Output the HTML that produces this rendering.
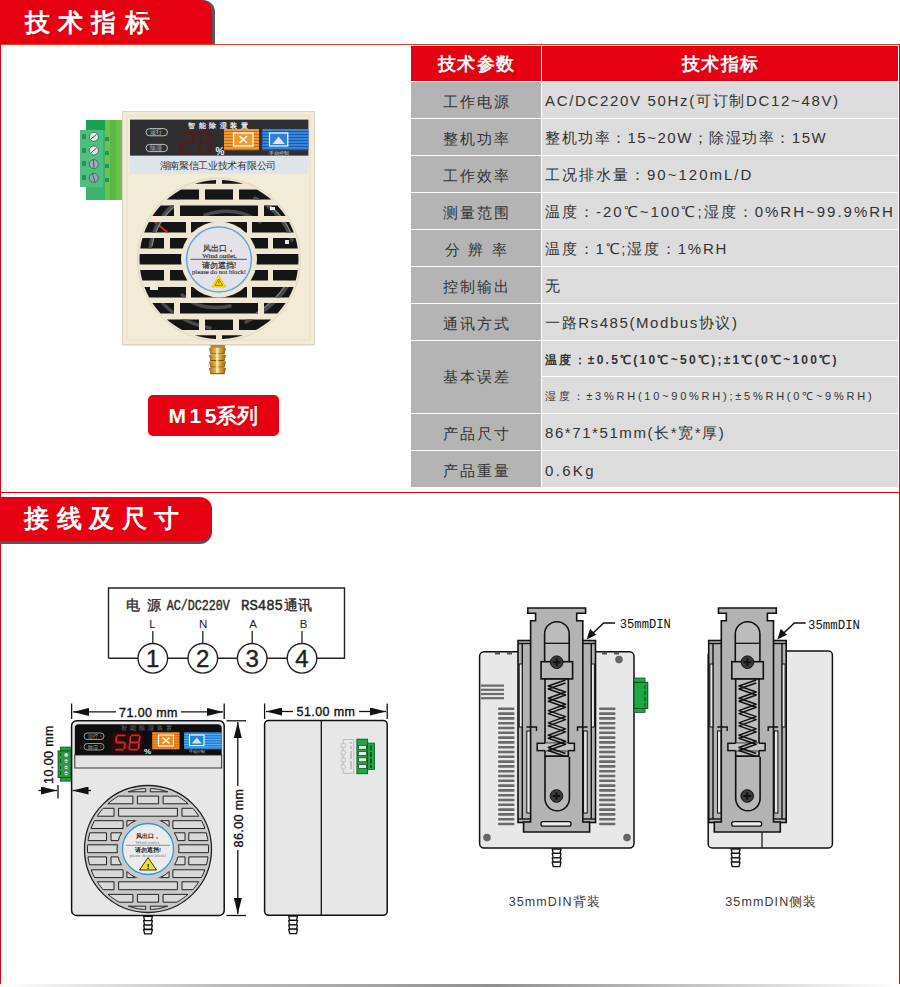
<!DOCTYPE html>
<html><head><meta charset="utf-8">
<style>
*{margin:0;padding:0;box-sizing:border-box}
html,body{width:900px;height:987px;overflow:hidden;background:#fff;font-family:"Liberation Sans",sans-serif}
.abs{position:absolute}
#page{position:relative;width:900px;height:987px;background:#fff}
.tab{position:absolute;left:0;background:#e50012;color:#fff;font-weight:bold;font-size:25px;letter-spacing:7.8px}
.row{position:absolute;left:411px;width:487px;height:36px}
.lc{position:absolute;left:0;top:0;width:130px;height:100%;background:#b4b4b4;color:#333;font-size:15px;letter-spacing:2.3px;text-indent:2.3px;padding-top:4px;text-align:center;display:flex;align-items:center;justify-content:center}
.rc{position:absolute;left:131px;top:0;width:356px;height:100%;background:#dcdcdc;color:#333;font-size:15px;letter-spacing:2px;padding-left:3px;padding-top:3px;display:flex;align-items:center;white-space:nowrap}
</style></head>
<body><div id="page">
<!-- borders -->
<div class="abs" style="left:0;top:44px;width:900px;height:1px;background:#e8401f"></div>
<div class="abs" style="left:0;top:44px;width:1px;height:940px;background:#e50012"></div>
<div class="abs" style="left:899px;top:44px;width:1px;height:940px;background:#e50012"></div>
<div class="abs" style="left:0;top:492px;width:900px;height:1px;background:#e50012"></div>
<div class="abs" style="left:0;top:984px;width:900px;height:3px;background:linear-gradient(90deg,#fff 0%,#bbb 25%,#909090 55%,#ccc 80%,#fff 100%)"></div>

<!-- tab 1 -->
<div class="tab" style="top:0;width:215px;height:44px;background:#5a5a5a;border-top-right-radius:12px"></div>
<div class="tab" style="top:0;width:212px;height:44px;border-top-right-radius:12px;padding:6px 0 0 25px;letter-spacing:8.2px">技术指标</div>

<!-- tab 2 -->
<div class="tab" style="top:500px;width:212px;height:44px;background:#555;border-radius:0 12px 12px 0"></div>
<div class="tab" style="top:497px;width:212px;height:44px;border-radius:0 12px 12px 0;padding:5px 0 0 24px;letter-spacing:7.6px">接线及尺寸</div>

<!-- table -->
<div class="row" style="top:46px;height:35px"><div class="lc" style="background:#e50012;color:#fff;font-weight:bold;font-size:18px;letter-spacing:1.5px;text-indent:1.5px;padding:0">技术参数</div><div class="rc" style="background:#e50012;color:#fff;font-weight:bold;font-size:18px;letter-spacing:1.5px;text-indent:1.5px;justify-content:center;padding:0">技术指标</div></div>
<div class="row" style="top:82px"><div class="lc">工作电源</div><div class="rc" style="letter-spacing:1.67px">AC/DC220V 50Hz(可订制DC12~48V)</div></div>
<div class="row" style="top:119px"><div class="lc">整机功率</div><div class="rc" style="letter-spacing:1.5px">整机功率：15~20W；除湿功率：15W</div></div>
<div class="row" style="top:156px"><div class="lc">工作效率</div><div class="rc">工况排水量：90~120mL/D</div></div>
<div class="row" style="top:193px"><div class="lc">测量范围</div><div class="rc">温度：-20℃~100℃;湿度：0%RH~99.9%RH</div></div>
<div class="row" style="top:230px"><div class="lc">分 辨 率</div><div class="rc" style="letter-spacing:1.8px">温度：1℃;湿度：1%RH</div></div>
<div class="row" style="top:267px"><div class="lc">控制输出</div><div class="rc">无</div></div>
<div class="row" style="top:304px"><div class="lc">通讯方式</div><div class="rc" style="letter-spacing:1.58px">一路Rs485(Modbus协议)</div></div>
<div class="row" style="top:341px;height:72px"><div class="lc" style="padding-top:0">基本误差</div>
  <div class="rc" style="height:35px;font-size:12px;font-weight:bold;letter-spacing:2.26px;padding-top:4px">温度：±0.5℃(10℃~50℃);±1℃(0℃~100℃)</div>
  <div class="rc" style="top:36px;height:36px;font-size:11px;letter-spacing:2.76px;padding-top:2px">湿度：±3%RH(10~90%RH);±5%RH(0℃~9%RH)</div></div>
<div class="row" style="top:414px"><div class="lc">产品尺寸</div><div class="rc" style="letter-spacing:1.58px">86*71*51mm(长*宽*厚)</div></div>
<div class="row" style="top:451px"><div class="lc">产品重量</div><div class="rc" style="letter-spacing:2.34px">0.6Kg</div></div>

<!-- M15 button -->
<div class="abs" style="left:148px;top:395px;width:131px;height:41px;background:#e50012;border-radius:5px;color:#fff;font-weight:bold;text-align:center;line-height:41px;white-space:nowrap"><span style="font-size:21px;letter-spacing:3.5px">M1</span><span style="font-size:21px">5</span><span style="font-size:20.5px">系列</span></div>

<!-- PHOTO -->
<svg class="abs" style="left:0;top:0" width="900" height="987" viewBox="0 0 900 987">
<defs>
<clipPath id="fanclip"><circle cx="219" cy="259.5" r="79.5"/></clipPath>
<linearGradient id="brass" x1="0" x2="1" y1="0" y2="0"><stop offset="0" stop-color="#a06a18"/><stop offset="0.3" stop-color="#d9a640"/><stop offset="0.5" stop-color="#f0c860"/><stop offset="0.75" stop-color="#c8922e"/><stop offset="1" stop-color="#8a5a12"/></linearGradient>
<linearGradient id="orng" x1="0" x2="0" y1="0" y2="1"><stop offset="0" stop-color="#f5a040"/><stop offset="1" stop-color="#e68a20"/></linearGradient>
</defs>
<!-- terminal block -->
<rect x="86" y="120" width="20" height="80" fill="#3bb56e"/>
<rect x="86" y="120" width="20" height="10" fill="#16a452"/>
<rect x="105" y="120" width="17" height="80" fill="#6cc24c"/>
<rect x="110" y="120" width="6" height="80" fill="#5db842"/>
<rect x="80" y="130" width="23" height="57" fill="#52bd80"/>
<g fill="#1e9a50"><rect x="82" y="134" width="4" height="5"/><rect x="82" y="148" width="4" height="5"/><rect x="82" y="161" width="4" height="5"/><rect x="82" y="175" width="4" height="5"/>
<rect x="105" y="137" width="4" height="4"/><rect x="105" y="151" width="4" height="4"/><rect x="105" y="164" width="4" height="4"/><rect x="105" y="178" width="4" height="4"/></g>
<g stroke="#1f6a40" stroke-width="0.8"><circle cx="93.8" cy="136.8" r="4.5" fill="#f0f0f0"/><circle cx="93.8" cy="150.5" r="4.5" fill="#e8e8ec"/><circle cx="93.8" cy="164.2" r="4.5" fill="#a8acc0"/><circle cx="93.8" cy="177.9" r="4.5" fill="#a0a4b8"/></g>
<g stroke="#555" stroke-width="1"><line x1="91" y1="139" x2="96.5" y2="134.5"/><line x1="91" y1="153" x2="96.5" y2="148"/><line x1="93.5" y1="160" x2="94" y2="168"/><line x1="92.5" y1="174" x2="95" y2="182"/></g>
<!-- body -->
<rect x="122" y="111" width="193" height="235" fill="#f2ebd8"/>
<rect x="122.5" y="111.5" width="192" height="233" fill="none" stroke="#ddd4bf" stroke-width="1"/>
<rect x="127" y="116" width="183" height="224" fill="none" stroke="#e6dec9" stroke-width="1"/>
<!-- panel -->
<rect x="130" y="119.6" width="178.4" height="36.2" fill="#2f2f31"/>
<rect x="130" y="155.8" width="178.4" height="18" fill="#dfe3ea"/>
<text x="219.5" y="127.5" fill="#eee" font-size="7" font-weight="bold" text-anchor="middle" letter-spacing="3.5" font-family="Liberation Sans">智能除湿装置</text>
<rect x="146" y="128.6" width="21.5" height="7.2" rx="3.6" fill="none" stroke="#cfcfcf" stroke-width="0.9"/>
<rect x="146" y="144.4" width="21.5" height="7.2" rx="3.6" fill="none" stroke="#cfcfcf" stroke-width="0.9"/>
<text x="150" y="134.4" fill="#ccc" font-size="5.5" font-family="Liberation Sans">运行</text>
<text x="150" y="150.2" fill="#ccc" font-size="5.5" font-family="Liberation Sans">除湿</text>
<g fill="#561b1b"><polygon points="182.5,132.5 193.9,132.5 192.4,135.1 183.6,135.1"/><polygon points="195.1,133.8 194.4,141.7 193.0,143.0 191.8,141.7 192.4,135.1"/><polygon points="181.6,143.0 183.0,141.7 191.8,141.7 193.0,143.0 191.6,144.3 182.8,144.3"/><polygon points="180.2,144.3 181.6,143.0 182.8,144.3 182.3,150.9 179.6,152.2"/><polygon points="182.3,150.9 191.1,150.9 192.2,153.5 180.8,153.5"/><polygon points="201.0,132.5 212.4,132.5 210.9,135.1 202.1,135.1"/><polygon points="213.6,133.8 212.9,141.7 211.5,143.0 210.3,141.7 210.9,135.1"/><polygon points="212.7,144.3 212.1,152.2 209.6,150.9 210.1,144.3 211.5,143.0"/><polygon points="200.8,150.9 209.6,150.9 210.7,153.5 199.3,153.5"/><polygon points="198.7,144.3 200.1,143.0 201.3,144.3 200.8,150.9 198.1,152.2"/><polygon points="199.6,133.8 202.1,135.1 201.5,141.7 200.1,143.0 198.9,141.7"/><polygon points="200.1,143.0 201.5,141.7 210.3,141.7 211.5,143.0 210.1,144.3 201.3,144.3"/></g>
<text x="215.5" y="154.6" fill="#f0f0f0" font-size="10" font-weight="bold" font-family="Liberation Sans">%</text>
<rect x="224" y="129" width="35" height="21.2" fill="#f29a30"/>
<g stroke="#a75d15" stroke-width="0.7"><line x1="224" y1="131.5" x2="259" y2="131.5"/><line x1="224" y1="134.5" x2="259" y2="134.5"/><line x1="224" y1="137.5" x2="259" y2="137.5"/><line x1="224" y1="140.5" x2="259" y2="140.5"/><line x1="224" y1="143.5" x2="259" y2="143.5"/><line x1="224" y1="146.5" x2="259" y2="146.5"/><line x1="224" y1="149.5" x2="259" y2="149.5"/></g>
<rect x="233.5" y="133" width="19.5" height="13" fill="#f29a30" stroke="#fff" stroke-width="1.3"/>
<g stroke="#fff" stroke-width="1.6"><line x1="239.5" y1="136" x2="247" y2="143"/><line x1="247" y1="136" x2="239.5" y2="143"/></g>
<rect x="262.2" y="129" width="46.2" height="21.2" fill="#3384dc"/>
<g stroke="#1a4c98" stroke-width="0.8"><line x1="262" y1="131.5" x2="308.4" y2="131.5"/><line x1="262" y1="134.5" x2="308.4" y2="134.5"/><line x1="262" y1="137.5" x2="308.4" y2="137.5"/><line x1="262" y1="140.5" x2="308.4" y2="140.5"/><line x1="262" y1="143.5" x2="308.4" y2="143.5"/><line x1="262" y1="146.5" x2="308.4" y2="146.5"/><line x1="262" y1="149.5" x2="308.4" y2="149.5"/></g>
<rect x="269.5" y="133" width="18.3" height="13" fill="#2f7fd6" stroke="#fff" stroke-width="1.2"/>
<polygon points="272.5,144 278.6,136.5 284.8,144" fill="#dfe8f2"/>
<text x="279" y="155" fill="#ddd" font-size="5" text-anchor="middle" font-family="Liberation Sans">手动控制</text>
<text x="217.8" y="169" fill="#333" font-size="10" text-anchor="middle" font-family="Liberation Serif" letter-spacing="-0.3">湖南聚信工业技术有限公司</text>
<!-- fan -->
<circle cx="219" cy="259.5" r="81.5" fill="#efe7d3" stroke="#e0d7c1" stroke-width="1"/>
<g fill="#151515">
<path d="M216.0,183.8 L194.7,183.8 L197.4,183.0 L200.4,182.2 L203.5,181.5 L206.6,181.0 L209.7,180.6 L212.8,180.2 L215.9,180.1 L216.0,180.1Z"/><path d="M222.0,183.8 L222.0,180.1 L222.1,180.1 L225.2,180.2 L228.3,180.6 L231.4,181.0 L234.5,181.5 L237.6,182.2 L240.6,183.0 L243.3,183.8Z"/><path d="M199.0,189.4 L199.0,199.6 L166.7,199.6 L167.4,199.0 L169.8,197.1 L172.3,195.2 L174.8,193.4 L177.5,191.7 L180.2,190.1 L181.5,189.4Z"/><path d="M233.0,189.4 L233.0,199.6 L205.0,199.6 L205.0,189.4Z"/><path d="M239.0,199.6 L239.0,189.4 L256.5,189.4 L257.8,190.1 L260.5,191.7 L263.2,193.4 L265.7,195.2 L268.2,197.1 L270.6,199.0 L271.3,199.6Z"/><path d="M174.0,205.6 L174.0,216.0 L152.5,216.0 L152.9,215.3 L154.7,212.8 L156.6,210.3 L158.5,207.9 L160.6,205.6Z"/><path d="M258.0,205.6 L258.0,216.0 L180.0,216.0 L180.0,205.6Z"/><path d="M264.0,216.0 L264.0,205.6 L277.4,205.6 L279.5,207.9 L281.4,210.3 L283.3,212.8 L285.1,215.3 L285.5,216.0Z"/><path d="M186.0,222.0 L186.0,232.4 L144.3,232.4 L144.4,232.0 L145.6,229.1 L146.8,226.2 L148.2,223.4 L148.9,222.0Z"/><path d="M247.0,222.0 L247.0,232.4 L191.0,232.4 L191.0,222.0Z"/><path d="M252.0,232.4 L252.0,222.0 L289.1,222.0 L289.8,223.4 L291.2,226.2 L292.4,229.1 L293.6,232.0 L293.7,232.4Z"/><path d="M164.0,238.0 L164.0,248.4 L140.3,248.4 L140.5,247.1 L141.0,244.0 L141.7,240.9 L142.5,238.0Z"/><path d="M268.0,238.0 L268.0,248.4 L170.0,248.4 L170.0,238.0Z"/><path d="M273.0,248.4 L273.0,238.0 L295.5,238.0 L296.3,240.9 L297.0,244.0 L297.5,247.1 L297.7,248.4Z"/><path d="M298.5,259.5 L298.4,262.6 L298.3,264.4 L139.7,264.4 L139.6,262.6 L139.5,259.5 L139.6,256.4 L139.7,254.0 L298.3,254.0 L298.4,256.4Z"/><path d="M164.0,270.0 L164.0,280.4 L142.3,280.4 L141.7,278.1 L141.0,275.0 L140.5,271.9 L140.2,270.0Z"/><path d="M268.0,270.0 L268.0,280.4 L170.0,280.4 L170.0,270.0Z"/><path d="M297.8,270.0 L297.5,271.9 L297.0,275.0 L296.3,278.1 L295.7,280.4 L273.0,280.4 L273.0,270.0Z"/><path d="M186.0,287.0 L186.0,297.4 L149.1,297.4 L148.2,295.6 L146.8,292.8 L145.6,289.9 L144.4,287.0 L144.4,287.0Z"/><path d="M247.0,287.0 L247.0,297.4 L191.0,297.4 L191.0,287.0Z"/><path d="M293.6,287.0 L293.6,287.0 L292.4,289.9 L291.2,292.8 L289.8,295.6 L288.9,297.4 L252.0,297.4 L252.0,287.0Z"/><path d="M174.0,303.0 L174.0,313.4 L160.6,313.4 L158.5,311.1 L156.6,308.7 L154.7,306.2 L152.9,303.7 L152.5,303.0Z"/><path d="M258.0,303.0 L258.0,313.4 L180.0,313.4 L180.0,303.0Z"/><path d="M285.5,303.0 L285.1,303.7 L283.3,306.2 L281.4,308.7 L279.5,311.1 L277.4,313.4 L264.0,313.4 L264.0,303.0Z"/><path d="M199.0,319.6 L199.0,330.0 L182.3,330.0 L180.2,328.9 L177.5,327.3 L174.8,325.6 L172.3,323.8 L169.8,321.9 L167.4,320.0 L167.0,319.6Z"/><path d="M233.0,319.6 L233.0,330.0 L205.0,330.0 L205.0,319.6Z"/><path d="M271.0,319.6 L270.6,320.0 L268.2,321.9 L265.7,323.8 L263.2,325.6 L260.5,327.3 L257.8,328.9 L255.7,330.0 L239.0,330.0 L239.0,319.6Z"/><path d="M216.0,335.3 L216.0,338.9 L215.9,338.9 L212.8,338.8 L209.7,338.4 L206.6,338.0 L203.5,337.5 L200.4,336.8 L197.4,336.0 L195.1,335.3Z"/><path d="M242.9,335.3 L240.6,336.0 L237.6,336.8 L234.5,337.5 L231.4,338.0 L228.3,338.4 L225.2,338.8 L222.1,338.9 L222.0,338.9 L222.0,335.3Z"/>
</g>
<clipPath id="slotclip"><path d="M216.0,183.8 L194.7,183.8 L197.4,183.0 L200.4,182.2 L203.5,181.5 L206.6,181.0 L209.7,180.6 L212.8,180.2 L215.9,180.1 L216.0,180.1Z"/><path d="M222.0,183.8 L222.0,180.1 L222.1,180.1 L225.2,180.2 L228.3,180.6 L231.4,181.0 L234.5,181.5 L237.6,182.2 L240.6,183.0 L243.3,183.8Z"/><path d="M199.0,189.4 L199.0,199.6 L166.7,199.6 L167.4,199.0 L169.8,197.1 L172.3,195.2 L174.8,193.4 L177.5,191.7 L180.2,190.1 L181.5,189.4Z"/><path d="M233.0,189.4 L233.0,199.6 L205.0,199.6 L205.0,189.4Z"/><path d="M239.0,199.6 L239.0,189.4 L256.5,189.4 L257.8,190.1 L260.5,191.7 L263.2,193.4 L265.7,195.2 L268.2,197.1 L270.6,199.0 L271.3,199.6Z"/><path d="M174.0,205.6 L174.0,216.0 L152.5,216.0 L152.9,215.3 L154.7,212.8 L156.6,210.3 L158.5,207.9 L160.6,205.6Z"/><path d="M258.0,205.6 L258.0,216.0 L180.0,216.0 L180.0,205.6Z"/><path d="M264.0,216.0 L264.0,205.6 L277.4,205.6 L279.5,207.9 L281.4,210.3 L283.3,212.8 L285.1,215.3 L285.5,216.0Z"/><path d="M186.0,222.0 L186.0,232.4 L144.3,232.4 L144.4,232.0 L145.6,229.1 L146.8,226.2 L148.2,223.4 L148.9,222.0Z"/><path d="M247.0,222.0 L247.0,232.4 L191.0,232.4 L191.0,222.0Z"/><path d="M252.0,232.4 L252.0,222.0 L289.1,222.0 L289.8,223.4 L291.2,226.2 L292.4,229.1 L293.6,232.0 L293.7,232.4Z"/><path d="M164.0,238.0 L164.0,248.4 L140.3,248.4 L140.5,247.1 L141.0,244.0 L141.7,240.9 L142.5,238.0Z"/><path d="M268.0,238.0 L268.0,248.4 L170.0,248.4 L170.0,238.0Z"/><path d="M273.0,248.4 L273.0,238.0 L295.5,238.0 L296.3,240.9 L297.0,244.0 L297.5,247.1 L297.7,248.4Z"/><path d="M298.5,259.5 L298.4,262.6 L298.3,264.4 L139.7,264.4 L139.6,262.6 L139.5,259.5 L139.6,256.4 L139.7,254.0 L298.3,254.0 L298.4,256.4Z"/><path d="M164.0,270.0 L164.0,280.4 L142.3,280.4 L141.7,278.1 L141.0,275.0 L140.5,271.9 L140.2,270.0Z"/><path d="M268.0,270.0 L268.0,280.4 L170.0,280.4 L170.0,270.0Z"/><path d="M297.8,270.0 L297.5,271.9 L297.0,275.0 L296.3,278.1 L295.7,280.4 L273.0,280.4 L273.0,270.0Z"/><path d="M186.0,287.0 L186.0,297.4 L149.1,297.4 L148.2,295.6 L146.8,292.8 L145.6,289.9 L144.4,287.0 L144.4,287.0Z"/><path d="M247.0,287.0 L247.0,297.4 L191.0,297.4 L191.0,287.0Z"/><path d="M293.6,287.0 L293.6,287.0 L292.4,289.9 L291.2,292.8 L289.8,295.6 L288.9,297.4 L252.0,297.4 L252.0,287.0Z"/><path d="M174.0,303.0 L174.0,313.4 L160.6,313.4 L158.5,311.1 L156.6,308.7 L154.7,306.2 L152.9,303.7 L152.5,303.0Z"/><path d="M258.0,303.0 L258.0,313.4 L180.0,313.4 L180.0,303.0Z"/><path d="M285.5,303.0 L285.1,303.7 L283.3,306.2 L281.4,308.7 L279.5,311.1 L277.4,313.4 L264.0,313.4 L264.0,303.0Z"/><path d="M199.0,319.6 L199.0,330.0 L182.3,330.0 L180.2,328.9 L177.5,327.3 L174.8,325.6 L172.3,323.8 L169.8,321.9 L167.4,320.0 L167.0,319.6Z"/><path d="M233.0,319.6 L233.0,330.0 L205.0,330.0 L205.0,319.6Z"/><path d="M271.0,319.6 L270.6,320.0 L268.2,321.9 L265.7,323.8 L263.2,325.6 L260.5,327.3 L257.8,328.9 L255.7,330.0 L239.0,330.0 L239.0,319.6Z"/><path d="M216.0,335.3 L216.0,338.9 L215.9,338.9 L212.8,338.8 L209.7,338.4 L206.6,338.0 L203.5,337.5 L200.4,336.8 L197.4,336.0 L195.1,335.3Z"/><path d="M242.9,335.3 L240.6,336.0 L237.6,336.8 L234.5,337.5 L231.4,338.0 L228.3,338.4 L225.2,338.8 L222.1,338.9 L222.0,338.9 L222.0,335.3Z"/></clipPath>
<g clip-path="url(#slotclip)" fill="none">
<path d="M150,218 L172,236" stroke="#c0282a" stroke-width="2.2"/>
<g stroke="#4a4a4c" stroke-width="3.5" stroke-linecap="round">
<path d="M255,198 Q282,212 292,240"/><path d="M160,300 Q178,322 210,328"/><path d="M246,322 Q276,306 290,282"/><path d="M150,250 Q152,222 178,200"/>
<path d="M205,215 Q235,205 260,222"/><path d="M182,295 Q200,312 230,306"/>
</g>
<g stroke="#8a8a8c" stroke-width="1.2"><path d="M262,200 Q284,214 292,236"/><path d="M152,246 Q156,222 176,205"/><path d="M248,318 Q274,304 286,284"/></g>
<g fill="#e8e8e8"><rect x="150" y="287" width="8" height="3"/><rect x="270" y="207" width="5" height="3"/><rect x="285" y="240" width="4" height="4"/><rect x="145" y="300" width="6" height="2"/></g>
</g>
<circle cx="219" cy="259.5" r="38" fill="#efe7d3"/>
<circle cx="219" cy="259.5" r="32.4" fill="#e2e2e8" stroke="#62a4e4" stroke-width="1.5"/>
<g font-family="Liberation Serif" fill="#2a2a2a" text-anchor="middle">
<text x="219" y="251" font-size="8" stroke="#2a2a2a" stroke-width="0.2">风出口，</text>
<text x="219.5" y="258" font-size="7" stroke="#2a2a2a" stroke-width="0.15">Wind outlet,</text>
<line x1="190.5" y1="259.3" x2="247" y2="259.3" stroke="#333" stroke-width="0.8"/>
<text x="219" y="268" font-size="8" stroke="#2a2a2a" stroke-width="0.2">请勿遮挡!</text>
<text x="219" y="274" font-size="6.3" stroke="#2a2a2a" stroke-width="0.1" textLength="54" lengthAdjust="spacingAndGlyphs">please do not block!</text>
</g>
<polygon points="218.8,275.5 211.8,287 225.8,287" fill="#ffe000" stroke="#d8b800" stroke-width="0.6"/>
<polygon points="218.8,279 215,285.3 222.6,285.3" fill="none" stroke="#6a5a10" stroke-width="0.7"/>
<line x1="218.8" y1="281" x2="218.8" y2="283.5" stroke="#6a5a10" stroke-width="0.8"/>
<!-- nozzle -->
<rect x="210.5" y="345" width="14.5" height="3" fill="#b8862c"/>
<path d="M209,348.3 Q217.5,346.9 226,348.3 L224.6,354.1 H210.4 Z" fill="url(#brass)"/>
<line x1="210.4" y1="353.9" x2="224.6" y2="353.9" stroke="#7a5210" stroke-width="1"/>
<path d="M209,354.9 Q217.5,353.5 226,354.9 L224.6,360.7 H210.4 Z" fill="url(#brass)"/>
<line x1="210.4" y1="360.5" x2="224.6" y2="360.5" stroke="#7a5210" stroke-width="1"/>
<path d="M209,361.5 Q217.5,360.1 226,361.5 L224.6,367.3 H210.4 Z" fill="url(#brass)"/>
<line x1="210.4" y1="367.1" x2="224.6" y2="367.1" stroke="#7a5210" stroke-width="1"/>
<path d="M209,368.1 Q217.5,366.7 226,368.1 L224.6,373.9 H210.4 Z" fill="url(#brass)"/>
<line x1="210.4" y1="373.7" x2="224.6" y2="373.7" stroke="#7a5210" stroke-width="1"/>
<rect x="216" y="348" width="2.5" height="25" fill="#fff3b0" opacity="0.7"/>
</svg>

<!-- DIAG -->
<svg class="abs" style="left:0;top:0" width="900" height="987" viewBox="0 0 900 987">
<defs>
<marker id="ah" viewBox="0 0 16 8" refX="16" refY="4" markerWidth="16" markerHeight="8" markerUnits="userSpaceOnUse" orient="auto-start-reverse"><path d="M0,0 L16,4 L0,8 Z" fill="#111"/></marker>


</defs>

<!-- ===== wiring diagram ===== -->
<path d="M108.5,658.3 V588 H344.5 V658.3 H108.5" fill="none" stroke="#222" stroke-width="1.4"/>
<g stroke="#222" stroke-width="1.4" fill="#fff">
 <circle cx="152.8" cy="658.3" r="14.8"/><circle cx="202.8" cy="658.3" r="14.8"/><circle cx="252.2" cy="658.3" r="14.8"/><circle cx="302" cy="658.3" r="14.8"/>
</g>
<g stroke="#222" stroke-width="1.3"><line x1="152.8" y1="631" x2="152.8" y2="643.5"/><line x1="202.8" y1="631" x2="202.8" y2="643.5"/><line x1="252.2" y1="631" x2="252.2" y2="643.5"/><line x1="302" y1="631" x2="302" y2="643.5"/></g>
<g font-family="Liberation Sans" fill="#222" text-anchor="middle" font-size="24" stroke="#222" stroke-width="0.4">
 <text x="152.8" y="667.3">1</text><text x="202.8" y="667.3">2</text><text x="252.2" y="667.3">3</text><text x="302" y="667.3">4</text>
</g>
<g font-family="Liberation Sans" fill="#222" text-anchor="middle" font-size="11.5">
 <text x="152.5" y="627.8">L</text><text x="203.2" y="627.8">N</text><text x="253.1" y="627.8">A</text><text x="303.5" y="627.8">B</text>
</g>
<g fill="#2a2a2a" font-size="14">
 <text x="125.5" y="610" font-family="Liberation Sans" stroke="#2a2a2a" stroke-width="0.35">电</text><text x="146.5" y="610" font-family="Liberation Sans" stroke="#2a2a2a" stroke-width="0.35">源</text>
 <text x="166.8" y="609.8" font-family="Liberation Mono" textLength="63" lengthAdjust="spacingAndGlyphs" stroke="#2a2a2a" stroke-width="0.45">AC/DC220V</text>
 <text x="241" y="609.8" font-family="Liberation Mono" textLength="42" lengthAdjust="spacingAndGlyphs" stroke="#2a2a2a" stroke-width="0.45">RS485</text>
 <text x="284" y="610" font-family="Liberation Sans" stroke="#2a2a2a" stroke-width="0.35">通讯</text>
</g>

<!-- ===== front view ===== -->
<g stroke="#111" stroke-width="1.3">
 <line x1="71.6" y1="703.5" x2="71.6" y2="719"/><line x1="224.2" y1="703.5" x2="224.2" y2="719"/>
 <line x1="73" y1="711.9" x2="116" y2="711.9" marker-start="url(#ah)"/><line x1="181" y1="711.9" x2="223" y2="711.9" marker-end="url(#ah)"/>
 <line x1="226.5" y1="720.8" x2="246" y2="720.8"/><line x1="226.5" y1="915.5" x2="246" y2="915.5"/>
 <line x1="237.8" y1="722" x2="237.8" y2="786" marker-start="url(#ah)"/><line x1="237.8" y1="850" x2="237.8" y2="914" marker-end="url(#ah)"/>
 <line x1="58" y1="785" x2="58" y2="798.5"/>
 <line x1="38.5" y1="790.5" x2="57" y2="790.5" marker-end="url(#ah)"/>
</g>
<text x="148.5" y="716.5" font-family="Liberation Sans" font-size="12.5" fill="#111" text-anchor="middle" letter-spacing="0.4" stroke="#111" stroke-width="0.35">71.00 mm</text>
<text transform="translate(243,818) rotate(-90)" font-family="Liberation Sans" font-size="12.5" fill="#111" text-anchor="middle" letter-spacing="0.4" stroke="#111" stroke-width="0.35">86.00 mm</text>
<text transform="translate(52.5,754.5) rotate(-90)" font-family="Liberation Sans" font-size="12.5" fill="#111" text-anchor="middle" letter-spacing="0.4" stroke="#111" stroke-width="0.35">10.00 mm</text>
<!-- terminal -->
<rect x="60.4" y="747.1" width="11" height="34" fill="#1ba340" stroke="#0a4a1a" stroke-width="0.8"/>
<rect x="58.1" y="750.9" width="13" height="26.7" fill="#1ba340" stroke="#0a4a1a" stroke-width="0.9"/>
<g fill="#0a4a1a"><rect x="60" y="753" width="1" height="3"/><rect x="60" y="759" width="1" height="4"/><rect x="60" y="766" width="1" height="3"/><rect x="60" y="771" width="1" height="4"/></g>
<g fill="#e0dcdc" stroke="#555" stroke-width="0.5"><circle cx="66.2" cy="755" r="2.2"/><circle cx="66.2" cy="761.1" r="2.2"/><circle cx="66.2" cy="767.4" r="2.2"/><circle cx="66.2" cy="773.2" r="2.2"/></g>
<g stroke="#7a3a3a" stroke-width="0.6"><line x1="64.3" y1="761.4" x2="68.1" y2="761.4"/><line x1="64.3" y1="767.7" x2="68.1" y2="767.7"/><line x1="64.3" y1="773.5" x2="68.1" y2="773.5"/></g>
<!-- body -->
<rect x="71.6" y="720.8" width="152.6" height="194.7" rx="5" fill="#e7e7e7" stroke="#111" stroke-width="1.5"/>
<path d="M74.8,755 V728 Q74.8,724.3 78.5,724.3 H217.8 Q221.7,724.3 221.7,728 V755 Z" fill="#0e0e0e"/>
<rect x="74.8" y="755" width="146.9" height="13" fill="#e2e2e2" stroke="#222" stroke-width="0.9"/>
<text x="148" y="730.3" font-size="5.5" fill="#777" text-anchor="middle" letter-spacing="3" font-family="Liberation Sans">智能除湿装置</text>
<rect x="84" y="733" width="20" height="6.5" rx="3.2" fill="none" stroke="#bbb" stroke-width="0.8"/>
<rect x="84" y="743.5" width="20" height="6.5" rx="3.2" fill="none" stroke="#bbb" stroke-width="0.8"/>
<text x="88" y="738.3" font-size="4.5" fill="#bbb" font-family="Liberation Sans">运行</text><text x="88" y="748.8" font-size="4.5" fill="#bbb" font-family="Liberation Sans">除湿</text><circle cx="101" cy="736.2" r="1.3" fill="#7a1010"/><circle cx="101" cy="746.7" r="1.3" fill="#7a1010"/>
<rect x="111.8" y="732.2" width="30.6" height="20.4" fill="#2a0a0a"/>
<g fill="#d8242c"><polygon points="116.8,734.5 126.0,734.5 124.9,736.3 117.5,736.3"/><polygon points="115.8,735.4 117.5,736.3 116.9,741.6 115.9,742.5 115.1,741.6"/><polygon points="115.9,742.5 116.9,741.6 124.3,741.6 125.1,742.5 124.1,743.4 116.7,743.4"/><polygon points="125.9,743.4 125.1,749.6 123.4,748.7 124.1,743.4 125.1,742.5"/><polygon points="116.0,748.7 123.4,748.7 124.1,750.5 114.9,750.5"/><polygon points="130.8,734.5 140.0,734.5 138.9,736.3 131.5,736.3"/><polygon points="140.8,735.4 140.1,741.6 139.1,742.5 138.3,741.6 138.9,736.3"/><polygon points="139.9,743.4 139.1,749.6 137.4,748.7 138.1,743.4 139.1,742.5"/><polygon points="130.0,748.7 137.4,748.7 138.1,750.5 128.9,750.5"/><polygon points="128.9,743.4 129.9,742.5 130.7,743.4 130.0,748.7 128.1,749.6"/><polygon points="129.8,735.4 131.5,736.3 130.9,741.6 129.9,742.5 129.1,741.6"/><polygon points="129.9,742.5 130.9,741.6 138.3,741.6 139.1,742.5 138.1,743.4 130.7,743.4"/></g>
<text x="144" y="753.5" font-size="8" font-weight="bold" fill="#eee" font-family="Liberation Sans">%</text>
<rect x="152.2" y="732.2" width="27.3" height="17.1" fill="#f08a1e"/>
<g stroke="#b05c10" stroke-width="0.5"><line x1="152" y1="734.5" x2="179.5" y2="734.5"/><line x1="152" y1="737" x2="179.5" y2="737"/><line x1="152" y1="739.5" x2="179.5" y2="739.5"/><line x1="152" y1="742" x2="179.5" y2="742"/><line x1="152" y1="744.5" x2="179.5" y2="744.5"/><line x1="152" y1="747" x2="179.5" y2="747"/></g>
<rect x="158.5" y="735" width="15" height="11" fill="#f08a1e" stroke="#fff" stroke-width="1.1"/>
<path d="M162.5,737.5 L169.5,743.5 M169.5,737.5 L162.5,743.5" stroke="#fff" stroke-width="1.5"/>
<rect x="184.1" y="732.2" width="37.6" height="17.1" fill="#1e86d8"/>
<g stroke="#a8d0f2" stroke-width="0.5"><line x1="184" y1="734.5" x2="221.7" y2="734.5"/><line x1="184" y1="737" x2="221.7" y2="737"/><line x1="184" y1="739.5" x2="221.7" y2="739.5"/><line x1="184" y1="742" x2="221.7" y2="742"/><line x1="184" y1="744.5" x2="221.7" y2="744.5"/><line x1="184" y1="747" x2="221.7" y2="747"/></g>
<rect x="189.5" y="735" width="14.5" height="10.5" fill="#1e86d8" stroke="#fff" stroke-width="1.1"/>
<polygon points="191.8,743.5 196.8,737.5 201.8,743.5" fill="#ddd"/>
<text x="197" y="753.3" font-size="4" fill="#ccc" text-anchor="middle" font-family="Liberation Sans">手动控制</text>
<line x1="72.5" y1="790.5" x2="91" y2="790.5" stroke="#111" stroke-width="1.3" marker-start="url(#ah)"/>
<!-- grille -->
<circle cx="148" cy="849" r="63.5" fill="#c9c9c9" stroke="#222" stroke-width="1.3"/>
<g fill="#d9d9d9" stroke="#222" stroke-width="1"><path d="M145.7,788.6 L145.7,791.8 L128.2,791.8 L129.3,791.5 L131.6,790.8 L133.9,790.2 L136.2,789.7 L138.5,789.2 L140.9,788.9 L143.3,788.7 L144.7,788.6Z"/><path d="M150.3,791.8 L150.3,788.6 L151.3,788.6 L152.7,788.7 L155.1,788.9 L157.5,789.2 L159.8,789.7 L162.1,790.2 L164.4,790.8 L166.7,791.5 L167.8,791.8Z"/><path d="M132.9,796.1 L132.9,803.8 L107.8,803.8 L108.7,803.0 L110.5,801.5 L112.4,800.1 L114.4,798.7 L116.4,797.4 L118.4,796.2 L118.7,796.1Z"/><path d="M158.6,796.1 L158.6,803.8 L137.4,803.8 L137.4,796.1Z"/><path d="M163.1,803.8 L163.1,796.1 L177.3,796.1 L177.6,796.2 L179.6,797.4 L181.6,798.7 L183.6,800.1 L185.5,801.5 L187.3,803.0 L188.2,803.8Z"/><path d="M114.0,808.3 L114.0,816.2 L97.2,816.2 L97.7,815.4 L99.1,813.4 L100.5,811.5 L102.0,809.7 L103.2,808.3Z"/><path d="M177.4,808.3 L177.4,816.2 L118.6,816.2 L118.6,808.3Z"/><path d="M182.0,816.2 L182.0,808.3 L192.8,808.3 L194.0,809.7 L195.5,811.5 L196.9,813.4 L198.3,815.4 L198.8,816.2Z"/><path d="M123.1,820.7 L123.1,828.5 L91.1,828.5 L91.2,828.1 L92.1,825.8 L93.1,823.7 L94.1,821.5 L94.5,820.7Z"/><path d="M169.1,820.7 L169.1,828.5 L126.9,828.5 L126.9,820.7Z"/><path d="M172.9,828.5 L172.9,820.7 L201.5,820.7 L201.9,821.5 L202.9,823.7 L203.9,825.8 L204.8,828.1 L204.9,828.5Z"/><path d="M106.5,832.8 L106.5,840.6 L88.1,840.6 L88.2,839.5 L88.7,837.2 L89.2,834.9 L89.7,832.8Z"/><path d="M185.0,832.8 L185.0,840.6 L111.0,840.6 L111.0,832.8Z"/><path d="M188.8,840.6 L188.8,832.8 L206.3,832.8 L206.8,834.9 L207.3,837.2 L207.8,839.5 L207.9,840.6Z"/><path d="M208.5,849.0 L208.5,851.4 L208.4,852.7 L87.6,852.7 L87.5,851.4 L87.5,849.0 L87.5,846.6 L87.7,844.8 L208.3,844.8 L208.5,846.6Z"/><path d="M106.5,856.9 L106.5,864.8 L89.6,864.8 L89.2,863.1 L88.7,860.8 L88.2,858.5 L88.0,856.9Z"/><path d="M185.0,856.9 L185.0,864.8 L111.0,864.8 L111.0,856.9Z"/><path d="M208.0,856.9 L207.8,858.5 L207.3,860.8 L206.8,863.1 L206.4,864.8 L188.8,864.8 L188.8,856.9Z"/><path d="M123.1,869.8 L123.1,877.6 L94.7,877.6 L94.1,876.5 L93.1,874.3 L92.1,872.2 L91.2,869.9 L91.2,869.8Z"/><path d="M169.1,869.8 L169.1,877.6 L126.9,877.6 L126.9,869.8Z"/><path d="M204.8,869.8 L204.8,869.9 L203.9,872.2 L202.9,874.3 L201.9,876.5 L201.3,877.6 L172.9,877.6 L172.9,869.8Z"/><path d="M114.0,881.8 L114.0,889.7 L103.2,889.7 L102.0,888.3 L100.5,886.5 L99.1,884.6 L97.7,882.6 L97.2,881.8Z"/><path d="M177.4,881.8 L177.4,889.7 L118.6,889.7 L118.6,881.8Z"/><path d="M198.8,881.8 L198.3,882.6 L196.9,884.6 L195.5,886.5 L194.0,888.3 L192.8,889.7 L182.0,889.7 L182.0,881.8Z"/><path d="M132.9,894.4 L132.9,902.2 L119.3,902.2 L118.4,901.8 L116.4,900.6 L114.4,899.3 L112.4,897.9 L110.5,896.5 L108.7,895.0 L108.0,894.4Z"/><path d="M158.6,894.4 L158.6,902.2 L137.4,902.2 L137.4,894.4Z"/><path d="M188.0,894.4 L187.3,895.0 L185.5,896.5 L183.6,897.9 L181.6,899.3 L179.6,900.6 L177.6,901.8 L176.7,902.2 L163.1,902.2 L163.1,894.4Z"/><path d="M145.7,906.2 L145.7,909.4 L144.7,909.4 L143.3,909.3 L140.9,909.1 L138.5,908.8 L136.2,908.3 L133.9,907.8 L131.6,907.2 L129.3,906.5 L128.4,906.2Z"/><path d="M167.6,906.2 L166.7,906.5 L164.4,907.2 L162.1,907.8 L159.8,908.3 L157.5,908.8 L155.1,909.1 L152.7,909.3 L151.3,909.4 L150.3,909.4 L150.3,906.2Z"/></g>
<clipPath id="g2clip"><path d="M145.7,788.6 L145.7,791.8 L128.2,791.8 L129.3,791.5 L131.6,790.8 L133.9,790.2 L136.2,789.7 L138.5,789.2 L140.9,788.9 L143.3,788.7 L144.7,788.6Z"/><path d="M150.3,791.8 L150.3,788.6 L151.3,788.6 L152.7,788.7 L155.1,788.9 L157.5,789.2 L159.8,789.7 L162.1,790.2 L164.4,790.8 L166.7,791.5 L167.8,791.8Z"/><path d="M132.9,796.1 L132.9,803.8 L107.8,803.8 L108.7,803.0 L110.5,801.5 L112.4,800.1 L114.4,798.7 L116.4,797.4 L118.4,796.2 L118.7,796.1Z"/><path d="M158.6,796.1 L158.6,803.8 L137.4,803.8 L137.4,796.1Z"/><path d="M163.1,803.8 L163.1,796.1 L177.3,796.1 L177.6,796.2 L179.6,797.4 L181.6,798.7 L183.6,800.1 L185.5,801.5 L187.3,803.0 L188.2,803.8Z"/><path d="M114.0,808.3 L114.0,816.2 L97.2,816.2 L97.7,815.4 L99.1,813.4 L100.5,811.5 L102.0,809.7 L103.2,808.3Z"/><path d="M177.4,808.3 L177.4,816.2 L118.6,816.2 L118.6,808.3Z"/><path d="M182.0,816.2 L182.0,808.3 L192.8,808.3 L194.0,809.7 L195.5,811.5 L196.9,813.4 L198.3,815.4 L198.8,816.2Z"/><path d="M123.1,820.7 L123.1,828.5 L91.1,828.5 L91.2,828.1 L92.1,825.8 L93.1,823.7 L94.1,821.5 L94.5,820.7Z"/><path d="M169.1,820.7 L169.1,828.5 L126.9,828.5 L126.9,820.7Z"/><path d="M172.9,828.5 L172.9,820.7 L201.5,820.7 L201.9,821.5 L202.9,823.7 L203.9,825.8 L204.8,828.1 L204.9,828.5Z"/><path d="M106.5,832.8 L106.5,840.6 L88.1,840.6 L88.2,839.5 L88.7,837.2 L89.2,834.9 L89.7,832.8Z"/><path d="M185.0,832.8 L185.0,840.6 L111.0,840.6 L111.0,832.8Z"/><path d="M188.8,840.6 L188.8,832.8 L206.3,832.8 L206.8,834.9 L207.3,837.2 L207.8,839.5 L207.9,840.6Z"/><path d="M208.5,849.0 L208.5,851.4 L208.4,852.7 L87.6,852.7 L87.5,851.4 L87.5,849.0 L87.5,846.6 L87.7,844.8 L208.3,844.8 L208.5,846.6Z"/><path d="M106.5,856.9 L106.5,864.8 L89.6,864.8 L89.2,863.1 L88.7,860.8 L88.2,858.5 L88.0,856.9Z"/><path d="M185.0,856.9 L185.0,864.8 L111.0,864.8 L111.0,856.9Z"/><path d="M208.0,856.9 L207.8,858.5 L207.3,860.8 L206.8,863.1 L206.4,864.8 L188.8,864.8 L188.8,856.9Z"/><path d="M123.1,869.8 L123.1,877.6 L94.7,877.6 L94.1,876.5 L93.1,874.3 L92.1,872.2 L91.2,869.9 L91.2,869.8Z"/><path d="M169.1,869.8 L169.1,877.6 L126.9,877.6 L126.9,869.8Z"/><path d="M204.8,869.8 L204.8,869.9 L203.9,872.2 L202.9,874.3 L201.9,876.5 L201.3,877.6 L172.9,877.6 L172.9,869.8Z"/><path d="M114.0,881.8 L114.0,889.7 L103.2,889.7 L102.0,888.3 L100.5,886.5 L99.1,884.6 L97.7,882.6 L97.2,881.8Z"/><path d="M177.4,881.8 L177.4,889.7 L118.6,889.7 L118.6,881.8Z"/><path d="M198.8,881.8 L198.3,882.6 L196.9,884.6 L195.5,886.5 L194.0,888.3 L192.8,889.7 L182.0,889.7 L182.0,881.8Z"/><path d="M132.9,894.4 L132.9,902.2 L119.3,902.2 L118.4,901.8 L116.4,900.6 L114.4,899.3 L112.4,897.9 L110.5,896.5 L108.7,895.0 L108.0,894.4Z"/><path d="M158.6,894.4 L158.6,902.2 L137.4,902.2 L137.4,894.4Z"/><path d="M188.0,894.4 L187.3,895.0 L185.5,896.5 L183.6,897.9 L181.6,899.3 L179.6,900.6 L177.6,901.8 L176.7,902.2 L163.1,902.2 L163.1,894.4Z"/><path d="M145.7,906.2 L145.7,909.4 L144.7,909.4 L143.3,909.3 L140.9,909.1 L138.5,908.8 L136.2,908.3 L133.9,907.8 L131.6,907.2 L129.3,906.5 L128.4,906.2Z"/><path d="M167.6,906.2 L166.7,906.5 L164.4,907.2 L162.1,907.8 L159.8,908.3 L157.5,908.8 L155.1,909.1 L152.7,909.3 L151.3,909.4 L150.3,909.4 L150.3,906.2Z"/></clipPath><circle cx="148" cy="849" r="31" fill="#c9c9c9"/><circle cx="148" cy="849" r="31" fill="none" stroke="#222" stroke-width="1" clip-path="url(#g2clip)"/>
<circle cx="148" cy="849" r="25.5" fill="#ebebeb" stroke="#2a98de" stroke-width="1.3"/>
<g font-family="Liberation Sans" fill="#222" text-anchor="middle">
<text x="148" y="838" font-size="6" font-weight="bold">风出口，</text>
<text x="148" y="844.3" font-size="5" fill="#777" font-family="Liberation Serif">Wind outlet,</text>
<line x1="126" y1="845.3" x2="170" y2="845.3" stroke="#555" stroke-width="0.6"/>
<text x="148" y="851.5" font-size="6" font-weight="bold">请勿遮挡!</text>
<text x="148" y="857" font-size="4.5" fill="#777" font-family="Liberation Serif">please do not block!</text>
</g>
<polygon points="148,857.5 139.5,870 156.5,870" fill="#f4e21a" stroke="#222" stroke-width="0.9"/>
<text x="148" y="868.5" font-size="8" font-weight="bold" text-anchor="middle" fill="#111" font-family="Liberation Sans">!</text>
<g transform="translate(143.4,916.3)"><g fill="#f4f4f4" stroke="#111" stroke-width="1.3" stroke-linejoin="round"><path d="M0.2,0.0 H9 L8,4.4 H1.2 Z"/><path d="M0.2,4.4 H9 L8,8.8 H1.2 Z"/><path d="M0.2,8.8 H9 L8,13.2 H1.2 Z"/><path d="M0.2,13.2 H9 L8,17.6 H1.2 Z"/></g></g>

<!-- ===== side view ===== -->
<g stroke="#111" stroke-width="1.3">
 <line x1="264.6" y1="703.5" x2="264.6" y2="719"/><line x1="387.2" y1="703.5" x2="387.2" y2="719"/>
 <line x1="266" y1="711.5" x2="293" y2="711.5" marker-start="url(#ah)"/><line x1="359" y1="711.5" x2="386" y2="711.5" marker-end="url(#ah)"/>
</g>
<text x="326" y="716" font-family="Liberation Sans" font-size="12.5" fill="#111" text-anchor="middle" letter-spacing="0.4" stroke="#111" stroke-width="0.35">51.00 mm</text>
<rect x="264.6" y="720.4" width="122.6" height="194.9" rx="4" fill="#e7e7e7" stroke="#111" stroke-width="1.5"/>
<line x1="321.3" y1="720.4" x2="321.3" y2="915.3" stroke="#111" stroke-width="1.3"/>
<path d="M353.7,739.5 H343.2 V773.3 H353.7 V739.5" fill="none" stroke="#aaa" stroke-width="0.7"/>
<g fill="#e6e6e6" stroke="#aaa" stroke-width="0.6"><circle cx="343.3" cy="745.5" r="2.3"/><circle cx="343.3" cy="752.8" r="2.3"/><circle cx="343.3" cy="760" r="2.3"/><circle cx="343.3" cy="767" r="2.3"/></g>
<g fill="#999"><rect x="350.5" y="742" width="1" height="2"/><rect x="350.5" y="746" width="1" height="3"/><rect x="350.5" y="751" width="1" height="8"/><rect x="350.5" y="761" width="1" height="8"/></g>
<rect x="367.3" y="743.1" width="7.3" height="26.3" fill="#1ea844" stroke="#0b5a22" stroke-width="0.8"/>
<g fill="#0b5a22"><rect x="370" y="745.5" width="2" height="5"/><rect x="370" y="752" width="2" height="5"/><rect x="370" y="758.5" width="2" height="5"/><rect x="370" y="765" width="2" height="3"/></g>
<rect x="356.9" y="739.2" width="10.7" height="34.5" fill="#1ea844" stroke="#0b5a22" stroke-width="0.9"/>
<g fill="#ece6e6" stroke="#0b5a22" stroke-width="0.8"><rect x="358.6" y="745.3" width="8" height="4"/><rect x="358.6" y="751.5" width="8" height="4"/><rect x="358.6" y="757.8" width="8" height="4"/><rect x="358.6" y="764.5" width="8" height="4"/></g>
<g transform="translate(288.5,916)"><g fill="#f4f4f4" stroke="#111" stroke-width="1.3" stroke-linejoin="round"><path d="M0.2,0.0 H9 L8,4.4 H1.2 Z"/><path d="M0.2,4.4 H9 L8,8.8 H1.2 Z"/><path d="M0.2,8.8 H9 L8,13.2 H1.2 Z"/><path d="M0.2,13.2 H9 L8,17.6 H1.2 Z"/></g></g>

<!-- ===== DIN back view ===== -->
<rect x="479.6" y="651.7" width="154.4" height="196.3" rx="4.5" fill="#e8e8e8" stroke="#111" stroke-width="1.5"/>
<g fill="#555"><rect x="495" y="651.7" width="5" height="2.8"/><rect x="507" y="651.7" width="5" height="2.8"/><rect x="602" y="651.7" width="5" height="2.8"/><rect x="614" y="651.7" width="5" height="2.8"/></g>
<g fill="#6a6a6a"><rect x="498" y="707.5" width="16.5" height="2.6" rx="1"/><rect x="599" y="707.5" width="16.5" height="2.6" rx="1"/><rect x="498" y="712.3" width="16.5" height="2.6" rx="1"/><rect x="599" y="712.3" width="16.5" height="2.6" rx="1"/><rect x="498" y="717.1" width="16.5" height="2.6" rx="1"/><rect x="599" y="717.1" width="16.5" height="2.6" rx="1"/><rect x="498" y="721.9" width="16.5" height="2.6" rx="1"/><rect x="599" y="721.9" width="16.5" height="2.6" rx="1"/><rect x="498" y="726.7" width="16.5" height="2.6" rx="1"/><rect x="599" y="726.7" width="16.5" height="2.6" rx="1"/><rect x="498" y="731.5" width="16.5" height="2.6" rx="1"/><rect x="599" y="731.5" width="16.5" height="2.6" rx="1"/><rect x="498" y="736.3" width="16.5" height="2.6" rx="1"/><rect x="599" y="736.3" width="16.5" height="2.6" rx="1"/><rect x="498" y="741.1" width="16.5" height="2.6" rx="1"/><rect x="599" y="741.1" width="16.5" height="2.6" rx="1"/><rect x="498" y="745.9" width="16.5" height="2.6" rx="1"/><rect x="599" y="745.9" width="16.5" height="2.6" rx="1"/><rect x="498" y="750.7" width="16.5" height="2.6" rx="1"/><rect x="599" y="750.7" width="16.5" height="2.6" rx="1"/><rect x="498" y="755.5" width="16.5" height="2.6" rx="1"/><rect x="599" y="755.5" width="16.5" height="2.6" rx="1"/><rect x="498" y="760.3" width="16.5" height="2.6" rx="1"/><rect x="599" y="760.3" width="16.5" height="2.6" rx="1"/><rect x="498" y="765.1" width="16.5" height="2.6" rx="1"/><rect x="599" y="765.1" width="16.5" height="2.6" rx="1"/><rect x="498" y="769.9" width="16.5" height="2.6" rx="1"/><rect x="599" y="769.9" width="16.5" height="2.6" rx="1"/><rect x="498" y="774.7" width="16.5" height="2.6" rx="1"/><rect x="599" y="774.7" width="16.5" height="2.6" rx="1"/><rect x="498" y="779.5" width="16.5" height="2.6" rx="1"/><rect x="599" y="779.5" width="16.5" height="2.6" rx="1"/><rect x="498" y="784.3" width="16.5" height="2.6" rx="1"/><rect x="599" y="784.3" width="16.5" height="2.6" rx="1"/><rect x="498" y="789.1" width="16.5" height="2.6" rx="1"/><rect x="599" y="789.1" width="16.5" height="2.6" rx="1"/><rect x="498" y="793.9" width="16.5" height="2.6" rx="1"/><rect x="599" y="793.9" width="16.5" height="2.6" rx="1"/><rect x="498" y="798.7" width="16.5" height="2.6" rx="1"/><rect x="599" y="798.7" width="16.5" height="2.6" rx="1"/><rect x="498" y="803.5" width="16.5" height="2.6" rx="1"/><rect x="599" y="803.5" width="16.5" height="2.6" rx="1"/><rect x="498" y="808.3" width="16.5" height="2.6" rx="1"/><rect x="599" y="808.3" width="16.5" height="2.6" rx="1"/><rect x="498" y="813.1" width="16.5" height="2.6" rx="1"/><rect x="599" y="813.1" width="16.5" height="2.6" rx="1"/><rect x="498" y="817.9" width="16.5" height="2.6" rx="1"/><rect x="599" y="817.9" width="16.5" height="2.6" rx="1"/><rect x="498" y="822.7" width="16.5" height="2.6" rx="1"/><rect x="599" y="822.7" width="16.5" height="2.6" rx="1"/><rect x="481" y="684.5" width="23" height="2.2"/><rect x="481" y="688.7" width="23" height="2.2"/><rect x="481" y="692.9" width="23" height="2.2"/><rect x="481" y="697.1" width="23" height="2.2"/></g>
<g fill="#666"><circle cx="487" cy="837.6" r="3.8"/><circle cx="627" cy="837.6" r="3.8"/><circle cx="619" cy="659.6" r="3.8"/></g>
<rect x="634" y="678" width="11" height="34.4" fill="#1ea844" stroke="#0b5a22" stroke-width="0.8"/><rect x="634" y="682.3" width="13.8" height="26.2" fill="#1ea844" stroke="#0b3a12" stroke-width="0.9"/><g fill="#0b5a22"><rect x="644.3" y="685" width="1.2" height="4"/><rect x="644.3" y="691" width="1.2" height="4"/><rect x="644.3" y="697" width="1.2" height="4"/><rect x="644.3" y="703" width="1.2" height="4"/></g>
<g transform="translate(0,0)">
 <!-- outer frame -->
 <rect x="518" y="640.5" width="77.5" height="182" fill="#b3b3b3" stroke="#111" stroke-width="1.6"/>
 <g stroke="#111" stroke-width="1.4" fill="none">
  <line x1="522.3" y1="643.5" x2="522.3" y2="819"/><line x1="591.3" y1="643.5" x2="591.3" y2="819"/>
  <line x1="518" y1="643.5" x2="537" y2="643.5"/><line x1="576" y1="643.5" x2="595.5" y2="643.5"/>
  <line x1="518" y1="819" x2="537" y2="819"/><line x1="576" y1="819" x2="595.5" y2="819"/>
 </g>
 <rect x="519.2" y="664" width="3" height="63" fill="#e8e8e8" stroke="#111" stroke-width="1"/>
 <rect x="526.8" y="731" width="3.6" height="82" fill="#e8e8e8" stroke="#111" stroke-width="1"/>
 <rect x="591.4" y="664" width="3" height="63" fill="#e8e8e8" stroke="#111" stroke-width="1"/>
 <rect x="583.6" y="731" width="3.6" height="82" fill="#e8e8e8" stroke="#111" stroke-width="1"/>
 <!-- slider -->
 <path d="M527.8,608 H585.6 V613.3 H576.7 V620.7 H582.8 V822 H589.6 V832 H523.6 V822 H530.6 V620.7 H535.6 V613.3 H527.8 Z" fill="#b3b3b3" stroke="#111" stroke-width="1.6"/>
 <g stroke="#111" stroke-width="1.4" fill="none">
  <path d="M526.5,727 H536.5 V731"/><path d="M587.5,727 H577.5 V731"/>
 </g>
 <!-- upper oval and screw block -->
 <path d="M544.6,661.7 V634 A12.3,12.3 0 0 1 569.2,634 V661.7" fill="#bcbcbc" stroke="#111" stroke-width="1.6"/>
 <line x1="544.6" y1="643.3" x2="569.2" y2="643.3" stroke="#111" stroke-width="1.3"/>
 <rect x="541.1" y="661.7" width="31.5" height="17.2" fill="#b8b8b8" stroke="#111" stroke-width="1.6"/>
 <rect x="545" y="679" width="23.3" height="78" fill="#bdbdbd" stroke="#111" stroke-width="1.6"/>
 <rect x="537.2" y="743.3" width="37.2" height="7.3" fill="#c4c4c4" stroke="#111" stroke-width="1.5"/>
 <rect x="545" y="743.3" width="23.3" height="7.3" fill="#c4c4c4"/>
 <path d="M565.5,680.0 L548.3,686.0 L565.5,692.0 L548.3,698.3 L565.5,704.3 L548.3,710.6 L565.5,716.6 L548.3,722.9 L565.5,728.9 L548.3,735.2 L565.5,741.2 L548.3,747.5 L565.5,753.5" fill="none" stroke="#111" stroke-width="1.5" stroke-linejoin="round"/><path d="M565.5,683.0 L548.3,689.0 L565.5,695.0 L548.3,701.3 L565.5,707.3 L548.3,713.6 L565.5,719.6 L548.3,725.9 L565.5,731.9 L548.3,738.2 L565.5,744.2 L548.3,750.5 L565.5,756.5" fill="none" stroke="#111" stroke-width="1.5" stroke-linejoin="round"/>
 <line x1="545" y1="756.5" x2="568.3" y2="756.5" stroke="#111" stroke-width="2.5"/>
 <path d="M545,757 V798.6 A12.2,12.2 0 0 0 569.4,798.6 V757" fill="#b8b8b8" stroke="#111" stroke-width="1.6"/>
 <rect x="541" y="821.6" width="30" height="4.6" rx="2.2" fill="#eee" stroke="#111" stroke-width="1.3"/>
 <circle cx="556.7" cy="662.2" r="6.3" fill="#3a3a3a" stroke="#111" stroke-width="1"/>
 <path d="M553,662.2 H560.4 M556.7,658.5 V665.9" stroke="#111" stroke-width="2"/>
 <circle cx="556.5" cy="796" r="6.3" fill="#3a3a3a" stroke="#111" stroke-width="1"/>
 <path d="M552.8,796 H560.2 M556.5,792.3 V799.7" stroke="#111" stroke-width="2"/>
 <!-- leader -->
 <polyline points="615,622.9 603.6,622.9 591,635" fill="none" stroke="#111" stroke-width="1.5"/>
 <path d="M586.7,639.4 L590,628.8 L596.3,634.8 Z" fill="#111"/>
</g>
<g transform="translate(552,849)"><g fill="#f4f4f4" stroke="#111" stroke-width="1.3" stroke-linejoin="round"><path d="M0.2,0.0 H9 L8,4.4 H1.2 Z"/><path d="M0.2,4.4 H9 L8,8.8 H1.2 Z"/><path d="M0.2,8.8 H9 L8,13.2 H1.2 Z"/><path d="M0.2,13.2 H9 L8,17.6 H1.2 Z"/></g></g>
<text x="619.8" y="628.2" font-family="Liberation Mono" font-size="12.5" fill="#111" textLength="51" lengthAdjust="spacingAndGlyphs">35mmDIN</text>

<!-- ===== DIN side view ===== -->
<rect x="708.2" y="651" width="124.2" height="197" rx="4" fill="#e8e8e8" stroke="#111" stroke-width="1.5"/>
<line x1="762" y1="822" x2="762" y2="848" stroke="#111" stroke-width="1.2"/>
<g transform="translate(190.7,0)">
 <!-- outer frame -->
 <rect x="518" y="640.5" width="77.5" height="182" fill="#b3b3b3" stroke="#111" stroke-width="1.6"/>
 <g stroke="#111" stroke-width="1.4" fill="none">
  <line x1="522.3" y1="643.5" x2="522.3" y2="819"/><line x1="591.3" y1="643.5" x2="591.3" y2="819"/>
  <line x1="518" y1="643.5" x2="537" y2="643.5"/><line x1="576" y1="643.5" x2="595.5" y2="643.5"/>
  <line x1="518" y1="819" x2="537" y2="819"/><line x1="576" y1="819" x2="595.5" y2="819"/>
 </g>
 <rect x="519.2" y="664" width="3" height="63" fill="#e8e8e8" stroke="#111" stroke-width="1"/>
 <rect x="526.8" y="731" width="3.6" height="82" fill="#e8e8e8" stroke="#111" stroke-width="1"/>
 <rect x="591.4" y="664" width="3" height="63" fill="#e8e8e8" stroke="#111" stroke-width="1"/>
 <rect x="583.6" y="731" width="3.6" height="82" fill="#e8e8e8" stroke="#111" stroke-width="1"/>
 <!-- slider -->
 <path d="M527.8,608 H585.6 V613.3 H576.7 V620.7 H582.8 V822 H589.6 V832 H523.6 V822 H530.6 V620.7 H535.6 V613.3 H527.8 Z" fill="#b3b3b3" stroke="#111" stroke-width="1.6"/>
 <g stroke="#111" stroke-width="1.4" fill="none">
  <path d="M526.5,727 H536.5 V731"/><path d="M587.5,727 H577.5 V731"/>
 </g>
 <!-- upper oval and screw block -->
 <path d="M544.6,661.7 V634 A12.3,12.3 0 0 1 569.2,634 V661.7" fill="#bcbcbc" stroke="#111" stroke-width="1.6"/>
 <line x1="544.6" y1="643.3" x2="569.2" y2="643.3" stroke="#111" stroke-width="1.3"/>
 <rect x="541.1" y="661.7" width="31.5" height="17.2" fill="#b8b8b8" stroke="#111" stroke-width="1.6"/>
 <rect x="545" y="679" width="23.3" height="78" fill="#bdbdbd" stroke="#111" stroke-width="1.6"/>
 <rect x="537.2" y="743.3" width="37.2" height="7.3" fill="#c4c4c4" stroke="#111" stroke-width="1.5"/>
 <rect x="545" y="743.3" width="23.3" height="7.3" fill="#c4c4c4"/>
 <path d="M565.5,680.0 L548.3,686.0 L565.5,692.0 L548.3,698.3 L565.5,704.3 L548.3,710.6 L565.5,716.6 L548.3,722.9 L565.5,728.9 L548.3,735.2 L565.5,741.2 L548.3,747.5 L565.5,753.5" fill="none" stroke="#111" stroke-width="1.5" stroke-linejoin="round"/><path d="M565.5,683.0 L548.3,689.0 L565.5,695.0 L548.3,701.3 L565.5,707.3 L548.3,713.6 L565.5,719.6 L548.3,725.9 L565.5,731.9 L548.3,738.2 L565.5,744.2 L548.3,750.5 L565.5,756.5" fill="none" stroke="#111" stroke-width="1.5" stroke-linejoin="round"/>
 <line x1="545" y1="756.5" x2="568.3" y2="756.5" stroke="#111" stroke-width="2.5"/>
 <path d="M545,757 V798.6 A12.2,12.2 0 0 0 569.4,798.6 V757" fill="#b8b8b8" stroke="#111" stroke-width="1.6"/>
 <rect x="541" y="821.6" width="30" height="4.6" rx="2.2" fill="#eee" stroke="#111" stroke-width="1.3"/>
 <circle cx="556.7" cy="662.2" r="6.3" fill="#3a3a3a" stroke="#111" stroke-width="1"/>
 <path d="M553,662.2 H560.4 M556.7,658.5 V665.9" stroke="#111" stroke-width="2"/>
 <circle cx="556.5" cy="796" r="6.3" fill="#3a3a3a" stroke="#111" stroke-width="1"/>
 <path d="M552.8,796 H560.2 M556.5,792.3 V799.7" stroke="#111" stroke-width="2"/>
 <!-- leader -->
 <polyline points="615,622.9 603.6,622.9 591,635" fill="none" stroke="#111" stroke-width="1.5"/>
 <path d="M586.7,639.4 L590,628.8 L596.3,634.8 Z" fill="#111"/>
</g>
<g transform="translate(731,849)"><g fill="#f4f4f4" stroke="#111" stroke-width="1.3" stroke-linejoin="round"><path d="M0.2,0.0 H9 L8,4.4 H1.2 Z"/><path d="M0.2,4.4 H9 L8,8.8 H1.2 Z"/><path d="M0.2,8.8 H9 L8,13.2 H1.2 Z"/><path d="M0.2,13.2 H9 L8,17.6 H1.2 Z"/></g></g>
<text x="808" y="629" font-family="Liberation Mono" font-size="12.5" fill="#111" textLength="52" lengthAdjust="spacingAndGlyphs">35mmDIN</text>

<!-- captions -->
<text x="508.7" y="906" font-family="Liberation Sans" font-size="12.5" fill="#3a3a3a" letter-spacing="1.1">35mmDIN背装</text>
<text x="725.3" y="906" font-family="Liberation Sans" font-size="12.5" fill="#3a3a3a" letter-spacing="1.1">35mmDIN侧装</text>
</svg>

</div></body></html>
